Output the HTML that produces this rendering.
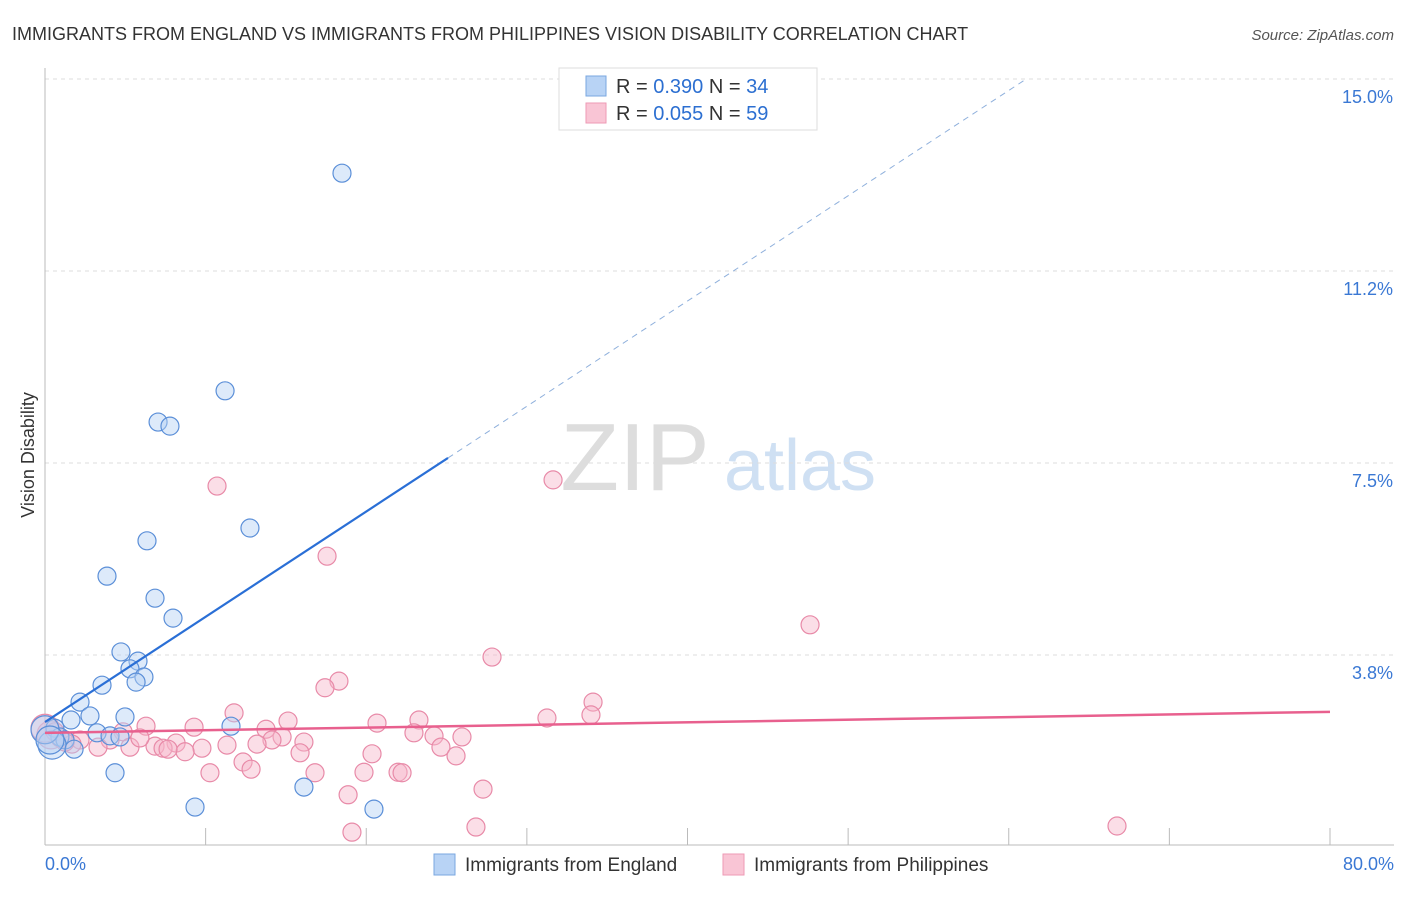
<!DOCTYPE html>
<html><head><meta charset="utf-8"><style>
body{margin:0;background:#fff;font-family:"Liberation Sans",sans-serif;}
svg text{font-family:"Liberation Sans",sans-serif;}
</style></head><body>
<svg id="chart" width="1406" height="892">
<text x="12" y="40" font-size="18" fill="#333">IMMIGRANTS FROM ENGLAND VS IMMIGRANTS FROM PHILIPPINES VISION DISABILITY CORRELATION CHART</text>
<text x="1394" y="40" font-size="15" fill="#555" font-style="italic" text-anchor="end">Source: ZipAtlas.com</text>
<text x="34" y="455" font-size="18" fill="#333" text-anchor="middle" transform="rotate(-90 34 455)">Vision Disability</text>
<g><text x="635" y="490" font-size="96" fill="#ddd" font-family="Liberation Serif" text-anchor="middle">ZIP</text><text x="800" y="490" font-size="72" fill="#cfe0f3" text-anchor="middle">atlas</text></g>
<g id="grid"></g><g id="axes"></g><g id="marks"></g>
<g>
<rect x="559" y="68" width="258" height="62" fill="#fff" stroke="#ddd"/>
<rect x="586" y="76" width="20" height="20" fill="#b8d3f5" stroke="#7aa7e0"/>
<rect x="586" y="103" width="20" height="20" fill="#f9c5d5" stroke="#ee9ab5"/>
<text x="616" y="93" font-size="20" fill="#333">R = <tspan fill="#2c6fd1">0.390</tspan>   N = <tspan fill="#2c6fd1">34</tspan></text>
<text x="616" y="120" font-size="20" fill="#333">R = <tspan fill="#2c6fd1">0.055</tspan>   N = <tspan fill="#2c6fd1">59</tspan></text>
</g>
<g>
<rect x="434" y="854" width="21" height="21" fill="#b8d3f5" stroke="#7aa7e0"/>
<text x="465" y="871" font-size="19" fill="#333">Immigrants from England</text>
<rect x="723" y="854" width="21" height="21" fill="#f9c5d5" stroke="#ee9ab5"/>
<text x="754" y="871" font-size="19" fill="#333">Immigrants from Philippines</text>
</g>
</svg>
<script>
const yTicks=[3.75,7.5,11.25,15];
const yTickLabels=["3.8%","7.5%","11.2%","15.0%"];
const xTickVals=[0,10,20,30,40,50,60,70,80];
const englandX=[18.49,11.21,7.04,7.78,12.76,6.35,3.86,6.85,7.97,4.73,5.79,5.29,6.16,5.67,3.55,2.18,2.80,4.98,1.62,11.58,0.62,3.24,0.93,4.05,1.25,4.67,0.44,1.81,4.36,9.34,16.12,20.48,0.0,0.31];
const englandY=[13.16,8.91,8.30,8.22,6.23,5.98,5.29,4.86,4.47,3.81,3.63,3.48,3.32,3.22,3.16,2.83,2.56,2.54,2.48,2.36,2.32,2.23,2.15,2.17,2.09,2.15,1.99,1.91,1.45,0.78,1.17,0.74,2.29,2.09];
const philX=[10.71,31.63,17.56,47.63,27.83,18.30,17.43,34.12,11.77,33.99,31.25,23.28,15.13,6.29,20.67,9.28,13.76,4.86,22.97,24.22,25.96,0.37,14.76,14.13,16.12,0.93,2.18,4.05,8.16,13.20,11.33,6.85,7.35,9.77,3.30,5.29,1.68,8.72,7.66,24.65,20.36,25.59,15.88,12.33,12.83,19.86,16.81,21.98,22.23,10.27,27.27,18.87,26.83,19.11,66.74,0,0.62,1.25,5.91];
const philY=[7.05,7.17,5.68,4.34,3.71,3.24,3.11,2.83,2.62,2.58,2.52,2.48,2.46,2.36,2.42,2.34,2.30,2.25,2.23,2.17,2.15,2.19,2.15,2.09,2.05,2.13,2.09,2.09,2.03,2.01,1.99,1.97,1.93,1.93,1.95,1.95,2.01,1.86,1.91,1.95,1.82,1.78,1.84,1.66,1.52,1.46,1.45,1.46,1.45,1.45,1.13,1.02,0.39,0.29,0.41,2.32,2.25,2.05,2.13];
const englandTrend=[2.44,0.2056]; // intercept, slope
const philTrend=[2.23,0.005125];
const X=v=>45+v/80*1285, Y=v=>847-v/15*768;
const NS="http://www.w3.org/2000/svg";
function mk(p,t,a){const e=document.createElementNS(NS,t);for(const k in a)e.setAttribute(k,a[k]);p.appendChild(e);return e;}
const grid=document.getElementById('grid'),axes=document.getElementById('axes'),marks=document.getElementById('marks');
yTicks.forEach((v,i)=>{
 const l=mk(grid,'line',{x1:45,x2:1394,y1:Y(v),y2:Y(v),stroke:'#ddd','stroke-dasharray':'4,4'});
 
 
 const t=mk(axes,'text',{x:1393,y:Y(v)+24,'font-size':18,fill:'#3a78d4','text-anchor':'end'});t.textContent=yTickLabels[i];
 
 
});
const xa=mk(axes,'line',{x1:45,x2:1394,y1:845,y2:845,stroke:'#bbb'});


const ya=mk(axes,'line',{x1:45,x2:45,y1:68,y2:845,stroke:'#bbb'});


xTickVals.forEach(v=>{const t=mk(axes,'line',{x1:X(v),x2:X(v),y1:828,y2:845,stroke:'#bbb'});
 
 });
[["0.0%",45,'start'],["80.0%",1394,'end']].forEach(a=>{const t=mk(axes,'text',{x:a[1],y:870,'font-size':18,fill:'#3a78d4','text-anchor':a[2]});t.textContent=a[0];
 
 });
function dots(xs,ys,fill,stroke,name){xs.forEach((x,i)=>{const r=(x<0.5)?14:9;
 const c=mk(marks,'circle',{cx:X(x),cy:Y(ys[i]),r:r,fill:fill,'fill-opacity':0.45,stroke:stroke,'stroke-width':1.2});
 
 });}
dots(philX,philY,'#f7b6ca','#e88aa8','philippines-point');
dots(englandX,englandY,'#b3d0f3','#5b8fd8','england-point');
const bEnd=25.09, bDash=(15-englandTrend[0])/englandTrend[1];
const l1=mk(marks,'line',{x1:X(0),y1:Y(englandTrend[0]),x2:X(bEnd),y2:Y(englandTrend[0]+englandTrend[1]*bEnd),stroke:'#2a6fd6','stroke-width':2.2});


const l2=mk(marks,'line',{x1:X(bEnd),y1:Y(englandTrend[0]+englandTrend[1]*bEnd),x2:X(bDash),y2:Y(15),stroke:'#8fb0dc','stroke-width':1,'stroke-dasharray':'6,5'});


const l3=mk(marks,'line',{x1:X(0),y1:Y(philTrend[0]),x2:X(80),y2:Y(philTrend[0]+philTrend[1]*80),stroke:'#e8608e','stroke-width':2.5});


</script>
</body></html>
